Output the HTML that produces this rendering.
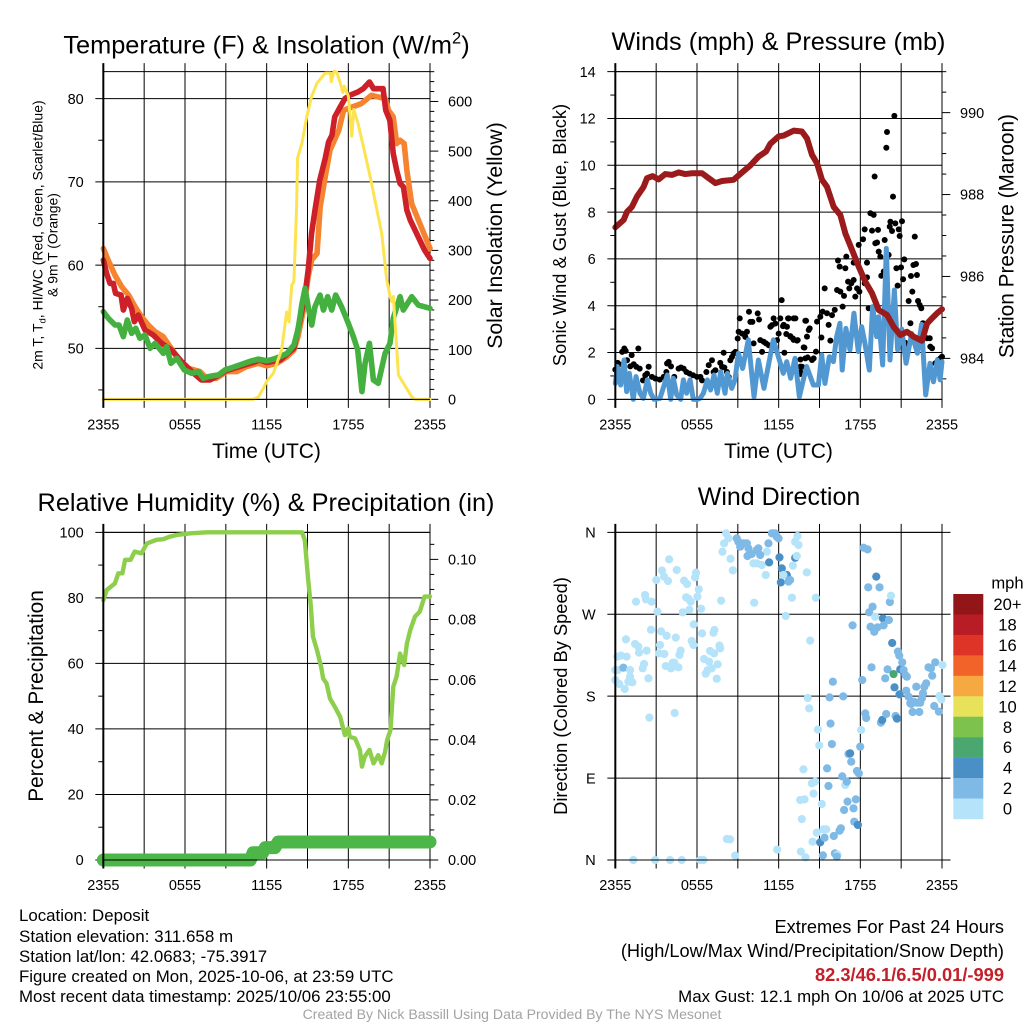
<!DOCTYPE html>
<html lang="en">
<head>
<meta charset="utf-8">
<title>Deposit Mesonet Station Meteogram</title>
<style>
html,body{margin:0;padding:0;background:#fff;}
svg{display:block;font-family:"Liberation Sans",sans-serif;}
text{fill:#000;}
</style>
</head>
<body>
<svg id="chart" xmlns="http://www.w3.org/2000/svg" width="1024" height="1024" viewBox="0 0 1024 1024">
  <rect x="0" y="0" width="1024" height="1024" fill="#fff"/>

  <g id="panel-temp"></g>
  <g id="panel-wind"></g>
  <g id="panel-rh"></g>
  <g id="panel-dir"></g>
  <g id="legend"></g>

  <text x="266.5" y="53.5" font-size="25.35" text-anchor="middle">Temperature (F) &amp; Insolation (W/m<tspan font-size="16.5" dy="-10">2</tspan><tspan dy="10">)</tspan></text>
  <text x="778.5" y="50" font-size="25.25" text-anchor="middle">Winds (mph) &amp; Pressure (mb)</text>
  <text x="266" y="511" font-size="25.3" text-anchor="middle">Relative Humidity (%) &amp; Precipitation (in)</text>
  <text x="779" y="505" font-size="25" text-anchor="middle">Wind Direction</text>

  <text x="266.5" y="458" font-size="21" text-anchor="middle">Time (UTC)</text>
  <text x="778.5" y="458" font-size="21" text-anchor="middle">Time (UTC)</text>

  <text transform="translate(42.5,235) rotate(-90)" font-size="14" text-anchor="middle">2m T, T<tspan font-size="9.5" dy="3">d</tspan><tspan dy="-3">, HI/WC (Red, Green, Scarlet/Blue)</tspan></text>
  <text transform="translate(57.5,245) rotate(-90)" font-size="13.9" text-anchor="middle">&amp; 9m T (Orange)</text>
  <text transform="translate(502,235.5) rotate(-90)" font-size="21.2" text-anchor="middle">Solar Insolation (Yellow)</text>
  <text transform="translate(566,235) rotate(-90)" font-size="18.3" text-anchor="middle">Sonic Wind &amp; Gust (Blue, Black)</text>
  <text transform="translate(1013.5,236) rotate(-90)" font-size="20.8" text-anchor="middle">Station Pressure (Maroon)</text>
  <text transform="translate(43,696) rotate(-90)" font-size="20.8" text-anchor="middle">Percent &amp; Precipitation</text>
  <text transform="translate(567,696) rotate(-90)" font-size="18.3" text-anchor="middle">Direction (Colored By Speed)</text>

  <text x="19" y="921" font-size="16.85">Location: Deposit</text>
  <text x="19" y="942" font-size="17">Station elevation: 311.658 m</text>
  <text x="19" y="962" font-size="16.85">Station lat/lon: 42.0683; -75.3917</text>
  <text x="19" y="982" font-size="16.85">Figure created on Mon, 2025-10-06, at 23:59 UTC</text>
  <text x="19" y="1002" font-size="16.85">Most recent data timestamp: 2025/10/06 23:55:00</text>

  <text x="1004" y="933" font-size="18.2" text-anchor="end">Extremes For Past 24 Hours</text>
  <text x="1004" y="957" font-size="18.2" text-anchor="end">(High/Low/Max Wind/Precipitation/Snow Depth)</text>
  <text x="1004" y="981" font-size="18.3" font-weight="bold" text-anchor="end" style="fill:#c4202a">82.3/46.1/6.5/0.01/-999</text>
  <text x="1004" y="1002" font-size="16.85" text-anchor="end">Max Gust: 12.1 mph On 10/06 at 2025 UTC</text>
  <text x="512" y="1019" font-size="14.1" text-anchor="middle" style="fill:#a3a3a3">Created By Nick Bassill Using Data Provided By The NYS Mesonet</text>
</svg>

<script>
// ---- shared time axis ----
const timeTickHours = [0, 3, 6, 9, 12, 15, 18, 21, 24];
const timeTickLabels = ["2355", "", "0555", "", "1155", "", "1755", "", "2355"];

// ---- temperature panel ----
const tempAxisTicks = [50, 60, 70, 80];
const tempAxisMinorTicks = [45, 55, 65, 75];
const solarAxisTicks = [0, 100, 200, 300, 400, 500, 600];
const solarAxisMinorTicks = [20,40,60,80,120,140,160,180,220,240,260,280,320,340,360,380,420,440,460,480,520,540,560,580,620,640,660];

const orangeHours = [0,.35,.85,1.35,1.85,2.33,2.8,3.3,3.8,4.4,4.9,5.6,6.25,7.1,7.6,8.3,9.05,9.8,10.5,11.4,12,12.75,13.5,14,14.3,14.7,15.05,15.3,15.7,15.93,16.3,16.65,17.3,17.65,18.95,19.7,20.7,20.95,21.3,21.55,21.8,22.1,22.3,22.65,23.25,24];
const orangeTemps = [62,60.6,58.8,57.4,56.4,55,53.8,52.8,52,51.4,50.2,48.6,47.6,47.2,46.4,46.4,47.2,47.2,47.8,48.2,47.9,48.2,49,49.8,51.4,54.6,58.6,60.6,61.4,67,70.6,73.8,76.2,78.6,79.4,80.4,80,78.6,77.8,74.6,75,74.6,71.4,67.4,65,62];

const redHours = [0,.24,.49,.73,.9,1.3,1.47,1.76,2.08,2.28,2.57,3.06,3.67,4.29,5,5.75,6.5,7.2,7.84,8.5,9,10,11,11.5,12,13,14,14.45,14.8,15.05,15.3,15.55,15.9,16.3,16.55,16.8,17,17.4,17.75,18.1,18.7,19.1,19.55,19.85,20.2,20.55,20.75,21.05,21.3,21.55,21.8,22.05,22.3,22.55,22.9,23.25,23.6,24];
const redTemps = [60.6,59,57.8,57.8,56.6,56.4,54.6,56,54.8,53.2,54,52.2,51.6,50.6,49.8,48.4,47.2,46.2,46.2,46.8,47.3,47.8,48.3,48.6,48.3,48.6,50,53.4,56.2,59.4,63.8,66.6,70.2,72.8,74.8,75.6,77.8,79,80,80.4,80.8,81.2,82,81.2,81.2,81.2,78.6,77.4,73.4,71.4,69.8,69.4,66.6,65.4,64.2,63,61.8,60.8];

const greenHours = [0,.37,.86,1.15,1.47,1.76,2.08,2.38,2.69,3.06,3.43,3.8,4.41,4.65,4.97,5.4,5.95,6.49,6.98,7.35,7.71,8.45,8.94,9.67,10.9,11.39,12,12.5,13,13.5,14,14.3,14.6,14.82,15.05,15.31,15.55,15.92,16.17,16.48,16.78,17.07,17.5,18,18.37,18.69,19,19.23,19.55,19.84,20.2,20.7,21.06,21.3,21.8,22.04,22.66,23.14,24];
const greenTemps = [54.4,53.6,52.8,52.8,51.4,53.4,51.8,52.4,51.2,51.6,50,50.6,49.4,50.2,48.2,48.8,47.4,47,47.2,46.4,46.6,46.8,47.4,47.8,48.5,48.7,48.5,48.7,49,49.4,50.4,52.2,55.4,57.2,55,52.8,55,56.4,54.6,56.2,54.6,56.4,55,53,51.4,49.8,44.8,48.2,50.6,46.2,45.8,49.4,50.6,53.6,56.2,54.6,56.2,55.2,54.8];

const solarHours = [0,11,11.4,11.75,12,12.5,13.1,13.47,13.64,13.84,14,14.2,14.27,14.6,14.95,15.3,15.7,16.3,16.7,16.75,16.95,17.15,17.4,17.6,17.7,18,18.25,18.4,18.7,19.1,19.6,20.2,20.45,20.82,21.07,21.19,21.31,21.68,22.66,22.9,24];
const solarWatts = [0,0,5,22,36,53,100,176,156,230,237,389,486,517,570,610,637,657,657,640,661,659,638,618,631,611,530,584,557,510,449,368,335,241,207,197,207,49,5,0,0];

// ---- winds panel ----
const windAxisTicks = [0, 2, 4, 6, 8, 10, 12, 14];
const windAxisMinorTicks = [1, 3, 5, 7, 9, 11, 13];
const pressureAxisTicks = [984, 986, 988, 990];
const pressureAxisMinorTicks = [983.5,984.5,985,985.5,986.5,987,987.5,988.5,989,989.5,990.5,991];

const sonicHours = [0,.15,.39,.64,.83,1.03,1.32,1.52,1.81,2.06,2.35,2.6,2.84,3.28,3.82,4.07,4.26,4.51,4.8,5,5.24,5.49,5.73,6.02,6.22,6.47,6.76,7,7.25,7.49,7.74,8.06,8.23,8.55,8.79,9.04,9.35,9.77,10.19,10.51,10.92,11.61,11.98,12.34,12.59,12.88,13.2,13.52,13.81,14.06,14.55,14.92,15.16,15.4,15.72,16.02,16.26,16.5,16.67,16.94,17.24,17.53,17.85,18.1,18.34,18.66,18.9,19.2,19.34,19.64,19.91,20.18,20.5,20.74,21.04,21.36,21.77,22.19,22.5,22.8,23.12,23.37,23.66,23.86,24];
const sonicSpeeds = [.68,1.4,.61,1.68,.33,1.11,0,.97,.26,.04,.83,.26,0,.04,1.04,0,.9,.19,0,.83,.26,.83,0,0,.04,.26,.83,.4,1.04,.26,1.18,.26,1.11,.47,.83,1.97,1.32,2.54,.11,1.68,.47,2.54,1.82,1.11,1.61,.9,1.75,.11,.83,1.4,.61,.61,1.9,.68,1.82,1.61,2.68,3.25,1.25,3.03,2.11,3.68,2.04,3.1,2.39,1.25,3.96,2.68,3.53,1.47,6.45,1.68,4.67,2.11,3,1.54,2.82,1.97,3.2,.19,1.54,.75,1.68,.83,1.61];

const gustHours = [0,.17,.29,.5,.66,.76,.86,1.2,1.1,1.35,1.69,1.54,1.79,2.03,2.2,2.45,2.33,2.69,2.94,3.26,3.55,3.75,3.92,4.09,3.8,4.33,4.65,4.82,5.02,5.22,5.46,5.71,6,6.25,6.37,6.69,6.86,7.1,7.22,7.35,7.71,7.84,8.01,8.2,8.33,8.45,8.57,8.69,8.82,7.96,8.99,9.14,9.06,9.31,9.55,9.67,9.82,9.92,10.07,10.16,10.46,10.56,10.65,10.9,11.07,11.27,10.78,11.39,11.51,11.63,11.76,12,11.88,12.12,12.22,12.32,12.42,12.56,12.74,12.86,13.05,13.23,13.4,13.6,13.6,13.72,13.89,14.01,14.21,14.13,13.6,13.6,13.96,13.96,14.08,14.28,14.45,13.84,13.1,12.69,12.37,12.61,12.86,13.1,13.35,14.57,14.74,14.82,15.06,15.14,15.38,15.23,15.55,15.67,15.8,15.92,16.12,16.29,16.36,16.48,16.53,16.7,16.8,16.9,16.97,17.1,17.19,17.34,17.51,17.63,17.76,17.93,17.88,17.51,18.2,18.32,18.49,18.49,18.32,18.74,18.86,18.98,19.1,19.23,19.3,19.35,19.47,18.61,19.05,19.54,19.72,19.79,19.91,19.96,20.08,20.16,20.21,20.33,20.4,20.5,20.57,20.65,20.74,20.89,20.82,20.99,21.06,21.14,21.23,21.55,21.68,21.72,21.82,21.9,22,22.09,22.16,22.24,22.36,22.48,22.6,22.9,23.1,23.14,23.27,23.51,23.71,23.88,24,23.63,21.3,21.43];
const gustSpeeds = [1.27,1.56,1.5,2.03,2.17,2.07,1.67,1.89,1.41,1.5,2.17,1.39,1.31,.81,1.03,1.39,1.1,.96,.89,.84,.96,1.17,1.6,1.41,1.53,.96,1.31,1.36,1.31,1.17,1.1,1.03,.96,.96,.81,1.17,1.46,1.67,1.17,1.24,1.56,1.39,1.36,1.17,.96,1.67,1.81,1.96,2.03,1.99,2.6,3.46,2.89,2.81,2.67,2.89,3.74,3.31,3.31,2.39,3.67,3.41,2.53,2.46,2.39,2.31,2.03,3.1,3.17,3.46,3.24,2.81,2.53,3.46,4.24,3.13,1.99,2.79,3.46,2.7,2.6,3.46,2.53,1.17,1.7,1.39,2.21,3.36,2.96,1.79,1.4,1.08,1.75,3.36,2.68,3.03,1.68,2.22,3.46,3.46,3.18,3.1,2.68,2.54,2.51,1.75,2.04,3.32,3.53,2.64,4.74,3.75,3.68,3.18,2.51,3.6,3.82,4.67,5.93,5.67,4.6,3.96,4.42,5.6,6.1,5.03,4.74,4.96,5.1,4.39,4.74,4.6,6.6,5.84,6.84,7.26,5.84,5.21,4.96,7.95,7.21,7.88,6.67,6.7,7.24,6.31,6.1,3.89,9.52,5.28,5.46,6.81,10.75,11.42,6.17,7.38,7.59,7.19,8.66,12.11,7.52,5.6,4.86,6.98,7.26,5.64,7.61,5.13,5.98,4.2,3.25,5.27,4.6,5.74,6.95,5.78,5.31,4.2,4.03,3.89,3.25,2.61,2.61,2.25,2.18,1.54,1.68,1.75,1.82,1.4,2.42,2.25];

const pressureHours = [0,.61,.86,1.22,1.59,2.08,2.33,2.74,3.18,3.67,4.16,4.65,5.14,5.63,6.37,6.86,7.35,7.84,8.69,9.31,9.92,10.53,11.07,11.39,12,12.37,13.1,13.71,14.08,14.45,14.82,15.18,15.55,16.04,16.53,16.9,17.39,17.88,18.37,18.86,19.35,19.96,20.45,20.94,21.43,21.92,22.53,22.9,23.27,23.63,24];
const pressureValues = [987.2,987.38,987.58,987.7,987.95,988.19,988.4,988.45,988.37,988.5,988.48,988.54,988.5,988.52,988.52,988.4,988.28,988.33,988.36,988.54,988.71,988.93,989.05,989.24,989.42,989.44,989.56,989.54,989.37,988.97,988.76,988.36,988.19,987.7,987.5,987.05,986.65,986.24,985.87,985.59,985.18,985.06,984.77,984.57,984.65,984.53,984.43,984.85,984.98,985.1,985.2];

// ---- humidity panel ----
const rhAxisTicks = [0, 20, 40, 60, 80, 100];
const rhAxisMinorTicks = [10, 30, 50, 70, 90];
const precipAxisTicks = [0, 0.02, 0.04, 0.06, 0.08, 0.10];
const precipTickLabels = ["0.00", "0.02", "0.04", "0.06", "0.08", "0.10"];
const precipAxisMinorTicks = [.005,.01,.015,.025,.03,.035,.045,.05,.055,.065,.07,.075,.085,.09,.095,.105];

const rhHours = [0,.25,.85,1.1,1.4,1.6,2,2.3,2.8,3.2,3.9,4.4,4.9,5.4,6.4,7.6,14.6,14.8,15.05,15.25,15.4,15.7,16,16.15,16.4,16.65,17,17.4,17.75,18,18.1,18.5,18.85,19,19.2,19.55,19.85,20.2,20.45,20.7,20.85,21.1,21.3,21.55,21.8,22.1,22.3,22.55,22.9,23.25,23.6,24];
const rhValues = [79.3,82.4,84.4,87.5,87.5,91.6,91.6,94.1,93.6,96.6,97.7,97.9,98.7,99.2,99.7,100,100,97.7,85.5,77.3,68.2,64,59,55.4,53.9,49.3,46.8,43.7,38.1,40.2,37.6,37.1,33.6,28.5,31.5,33.6,29.5,32,29.5,33,36.6,39.7,52.9,56,63,59.5,66,70.2,74.3,75.8,80.4,80.4];

const precipHours = [0,10.8,11,11.7,11.9,12.6,12.85,24];
const precipInches = [0,0,.0024,.0024,.0041,.0041,.006,.006];

// ---- wind direction panel ----
const dirTicks = [0, 90, 180, 270, 360];
const dirTickLabels = ["N", "E", "S", "W", "N"];

const dirHours = [0,0,.17,.15,.29,.42,.59,.69,.83,.78,.96,1.08,1.08,1.25,1.45,1.52,1.69,1.74,2.01,2.11,2.18,2.3,2.43,2.5,2.62,2.67,2.25,3.01,3.09,3.21,3.28,3.36,3.43,3.58,3.6,3.77,3.7,3.87,3.95,4.09,4.22,4.34,4.36,4.44,4.51,4.63,4.71,4.8,4.95,5.05,5.27,5.2,5.37,5.44,5.54,5.61,5.74,5.76,5.86,5.93,6.03,6.13,6.3,6.37,6.52,6.64,6.79,6.89,6.96,7.08,7.21,7.28,7.25,7.45,7.52,7.65,7.7,7.77,7.87,7.99,8.14,8.31,8.46,8.63,1.32,2.92,4.02,4.88,6.23,6.47,8.8,8.19,8.43,
10.15,10.39,10.76,11.05,11.13,10.2,8.92,9.04,9.17,9.41,9.66,9.78,9.71,10.02,10.39,10.51,10.64,11.25,11.3,11.5,11.62,11.74,11.86,11.99,12.06,12.16,12.23,12.6,12.72,12.84,12.35,12.52,12.97,13.04,13.21,13.33,13.21,13.38,13.46,14.07,14.73,14.31,14.14,14.24,14.88,14.98,13.82,14.44,14.68,14.56,13.58,13.9,15.17,13.7,14.8,15.29,15.49,14.49,13.63,13.97,11.89,15.05,15.37,15.25,15.56,15.66,15.74,15.91,15.98,15.81,16.05,16.13,16.32,16.27,16.47,16.57,16.67,16.74,16.81,16.89,17.01,17.06,17.13,17.25,17.33,17.43,17.5,17.55,17.67,17.75,17.82,17.89,17.99,18.06,18.14,18.24,18.36,18.43,18.53,18.58,18.65,18.75,18.82,18.9,19.02,19.09,19.17,19.26,19.41,19.51,19.61,19.66,19.71,19.83,19.9,20,20.1,20.17,20.25,20.34,20.44,20.51,20.59,20.69,20.76,20.86,20.93,20.88,21.08,21.18,21.3,21.37,21.42,21.54,21.67,21.74,21.84,21.94,22.11,22.16,22.33,22.4,22.52,22.6,22.7,22.84,23.01,23.19,23.28,23.43,23.5,23.77,23.82,23.95,24.04];
const dirDegrees = [197.7,208.7,208.7,223.4,193.4,224.5,211.3,187.9,223.4,242.4,195.9,208.7,201.4,195.2,237.3,283.8,234.4,227.8,210.6,215.3,291.1,230,199.6,156.4,253,283.8,286.4,307.6,272.8,227,236.2,251.2,317.9,311.3,226.3,246.4,213.1,306.5,330.3,210.6,216.8,216.8,161.5,244.3,318.6,211.7,225.2,230,272.1,306.9,303.2,288.6,287.1,275,283.8,240.6,236.2,258.9,310.5,315.7,289.3,297.4,276.1,249,220.8,204.7,208.7,217.9,229.6,210.6,249.7,252.7,227,199.2,215,235.5,232.5,284.9,338.7,347.9,358.9,353.4,331,318.2,0,0,0,0,0,0,4.8,23.1,22.7,
325.9,325.9,324.1,313.1,338.7,282.7,353.4,349.7,344.2,347.9,347.9,342.4,334,336.2,340.6,342.4,335.1,347.9,327,358.9,358.9,358.9,355.2,353.4,332.5,305,320.4,313.1,305.8,307.6,313.1,268.1,288.2,323.4,332.1,334,349.7,355.9,346.1,316,288.2,241,178,166.6,143.2,126,99.6,84.2,86.1,72.9,65.9,66.6,61.5,45,30,33.7,33.7,20.1,9.2,2.9,11.4,19.4,24.5,5.1,100.7,81.3,178.7,127.4,195.9,149.8,26.4,7.3,5.9,3.7,32.2,34.8,91.9,179.8,54.9,82.4,86.1,64.1,116.5,117.2,108,257.8,56.8,42.1,66.6,97.8,38.5,95.2,124.5,142.8,197.7,343.1,161.1,156,341.3,299.6,272.1,256.3,211.7,278.3,250.8,267.3,311.3,255.6,299.6,150.9,153.8,265.5,257.8,199.6,160.4,209.5,263.7,283.4,290.4,238.4,204.3,189.7,158.2,155.3,228.9,224.5,209.5,182,217.2,208.7,203.2,186,201.4,179.4,172.1,171.4,162.6,173.9,190.4,172.8,162.6,172.8,177.6,183.1,190.4,194.1,211.7,210.6,202.5,169.2,217.2,163,180.2,176.5,214.2];
const dirSpeeds = [.8,.8,.8,.8,.8,.8,2,.8,.8,.8,.8,.8,.8,.8,.8,.8,.8,.8,.8,.8,.8,.8,.8,.8,.8,.8,.8,.8,.8,.8,.8,.8,.8,.8,.8,.8,.8,.8,.8,.8,.8,.8,.8,.8,.8,.8,.8,.8,.8,.8,.8,.8,.8,.8,.8,.8,.8,.8,.8,.8,.8,.8,.8,.8,.8,.8,.8,.8,.8,.8,.8,.8,.8,.8,.8,.8,.8,.8,.8,.8,.8,.8,.8,.8,.8,.8,.8,.8,.8,.8,.8,.8,.8,
.8,.8,.8,.8,.8,.8,2,2,2,2,2,2,2,2,2,2,2,2,4,2,2,2,2,2,4,4,4,4,2,2,.8,.8,.8,.8,4,.8,.8,.8,.8,.8,.8,.8,.8,.8,.8,.8,.8,.8,.8,.8,.8,.8,.8,.8,.8,.8,.8,.8,.8,.8,.8,4,2,2,2,2,2,2,2,2,2,2,.8,2,2,2,2,2,2,.8,2,2,2,4,2,2,2,2,2,2,4,2,2,.8,2,2,2,2,2,2,2,2,2,2,2,.8,4,2,2,2,4,4,2,2,2,2,2,2,.8,4,6,4,2,4,2,2,4,4,2,2,2,2,2,2,2,2,2,2,2,2,2,2,2,2,2,2,2,2,2,2,2,2,.8,.8,.8,.8,2,.8,.8,.8,.8,.8,.8];

// ---- legend ----
const legendLabels = ["20+", "18", "16", "14", "12", "10", "8", "6", "4", "2", "0"];
const legendColors = ["#921518", "#b81c24", "#de3327", "#f2632a", "#f7a941", "#e8e15a", "#7cc24c", "#4ba770", "#4a90c6", "#7fb9e6", "#b5e3fa"];
const speedBinColors = ["#b5e3fa", "#7fb9e6", "#4a90c6", "#4ba770", "#7cc24c", "#e8e15a", "#f7a941", "#f2632a", "#de3327", "#b81c24", "#921518"];

const NS = "http://www.w3.org/2000/svg";

function make(tag, attrs, parent) {
  const node = document.createElementNS(NS, tag);
  for (const key in attrs) node.setAttribute(key, attrs[key]);
  parent.appendChild(node);
  return node;
}

function linear(d0, d1, r0, r1) {
  return function (v) { return r0 + (v - d0) / (d1 - d0) * (r1 - r0); };
}

function pathFrom(hours, values, xf, yf) {
  return hours.map(function (h, i) {
    return (i ? "L" : "M") + xf(h).toFixed(2) + " " + yf(values[i]).toFixed(2);
  }).join("");
}

function hLine(parent, x1, x2, y, width, name) {
  const ln = make("line", { x1: x1, x2: x2, y1: y, y2: y, stroke: "#000", "stroke-width": width }, parent);
  
  
  return ln;
}

function vLine(parent, x, y1, y2, width, name) {
  const ln = make("line", { x1: x, x2: x, y1: y1, y2: y2, stroke: "#000", "stroke-width": width }, parent);
  
  
  return ln;
}

function label(parent, x, y, str, anchor, name) {
  const t = make("text", { x: x, y: y, "font-size": 14.5, "text-anchor": anchor }, parent);
  t.textContent = str;
  
  
  return t;
}

function series(parent, hours, values, xf, yf, color, width, name) {
  const p = make("path", {
    d: pathFrom(hours, values, xf, yf), fill: "none", stroke: color,
    "stroke-width": width, "stroke-linejoin": "round", "stroke-linecap": "round"
  }, parent);
  
  
  return p;
}

function frame(g, o) {
  const L = o.left, R = o.left + o.width, T = o.top, B = o.bottom;
  const xf = linear(0, 24, L, R);
  const gridGroup = make("g", {}, g);
  
  

  timeTickHours.forEach(function (h, i) {
    if (h !== 0) vLine(gridGroup, xf(h), T - 8.5, B + 8.5, 1, "time-gridline");
    if (timeTickLabels[i]) label(gridGroup, xf(h), B + 30, timeTickLabels[i], "middle", "time-tick-label");
  });
  hLine(gridGroup, L - 1, R, T, 1, "top-border");

  o.leftTicks.forEach(function (v, i) {
    const y = o.yLeft(v);
    hLine(gridGroup, L - 8, R + (o.rightExtend || 0), y, 1, "left-gridline");
    label(gridGroup, L - 19.6, y + 5.2, o.leftLabels ? o.leftLabels[i] : String(v), "end", "left-tick-label");
  });
  (o.leftMinor || []).forEach(function (v) {
    hLine(gridGroup, L - 5, L, o.yLeft(v), 1, "left-minor-tick");
  });
  (o.rightTicks || []).forEach(function (v, i) {
    const y = o.yRight(v);
    hLine(gridGroup, R, R + 8.3, y, 1, "right-tick");
    label(gridGroup, R + 18, y + 5.2, o.rightLabels ? o.rightLabels[i] : String(v), "start", "right-tick-label");
  });
  (o.rightMinor || []).forEach(function (v) {
    hLine(gridGroup, R, R + 4.3, o.yRight(v), 1, "right-minor-tick");
  });
  return xf;
}

function spines(g, o) {
  const L = o.left, R = o.left + o.width;
  vLine(g, L, o.top - 8.5, o.bottom + 8.5, 2, "left-axis-line");
  hLine(g, L - 1, R, o.bottom, 1, "bottom-axis-line");
}

const LEFT_A = 103.33, LEFT_B = 615.33, W = 326.67;
const TOP_1 = 71.67, BOT_1 = 399.33, TOP_2 = 532.33, BOT_2 = 860;

// Temperature & insolation
const panelTemp = document.getElementById("panel-temp");
const yTemp = linear(43.87, 83.24, BOT_1, TOP_1);
const ySolar = linear(0, 660, BOT_1, TOP_1);
const tempOpts = {
  left: LEFT_A, width: W, top: TOP_1, bottom: BOT_1,
  yLeft: yTemp, yRight: ySolar,
  leftTicks: tempAxisTicks, leftMinor: tempAxisMinorTicks,
  rightTicks: solarAxisTicks, rightMinor: solarAxisMinorTicks
};
const xTemp = frame(panelTemp, tempOpts);
hLine(panelTemp, LEFT_A - 1, LEFT_A + W, BOT_1, 1, "bottom-border");
series(panelTemp, orangeHours, orangeTemps, xTemp, yTemp, "#f6832f", 5.6, "temperature-9m-line");
series(panelTemp, redHours, redTemps, xTemp, yTemp, "#cd2028", 5.6, "temperature-2m-line");
series(panelTemp, greenHours, greenTemps, xTemp, yTemp, "#44b03f", 5.6, "dewpoint-line");
series(panelTemp, solarHours, solarWatts, xTemp, ySolar, "#fde350", 3, "solar-insolation-line");
spines(panelTemp, tempOpts);

// Winds & pressure
const panelWind = document.getElementById("panel-wind");
const yWind = linear(0, 14, BOT_1, TOP_1);
const yPressure = linear(983, 991, BOT_1, TOP_1);
const windOpts = {
  left: LEFT_B, width: W, top: TOP_1, bottom: BOT_1,
  yLeft: yWind, yRight: yPressure,
  leftTicks: windAxisTicks, leftMinor: windAxisMinorTicks,
  rightTicks: pressureAxisTicks, rightMinor: pressureAxisMinorTicks
};
const xWind = frame(panelWind, windOpts);
gustHours.forEach(function (h, i) {
  const c = make("circle", { cx: xWind(h), cy: yWind(gustSpeeds[i]), r: 3, fill: "#000" }, panelWind);
  
  
});
series(panelWind, sonicHours, sonicSpeeds, xWind, yWind, "#5198d2", 5, "sonic-wind-line");
series(panelWind, pressureHours, pressureValues, xWind, yPressure, "#9b1a1c", 6, "station-pressure-line");
spines(panelWind, windOpts);

// Humidity & precipitation
const panelRh = document.getElementById("panel-rh");
const yRh = linear(0, 100, BOT_2, TOP_2);
const yPrecip = linear(0, 0.109, BOT_2, TOP_2);
const rhOpts = {
  left: LEFT_A, width: W, top: TOP_2, bottom: BOT_2,
  yLeft: yRh, yRight: yPrecip,
  leftTicks: rhAxisTicks, leftMinor: rhAxisMinorTicks,
  rightTicks: precipAxisTicks, rightLabels: precipTickLabels, rightMinor: precipAxisMinorTicks
};
const xRh = frame(panelRh, rhOpts);
series(panelRh, precipHours, precipInches, xRh, yPrecip, "#4cb648", 13, "precipitation-line");
series(panelRh, rhHours, rhValues, xRh, yRh, "#8dcf4c", 4.4, "relative-humidity-line");
spines(panelRh, rhOpts);

// Wind direction
const panelDir = document.getElementById("panel-dir");
const yDir = linear(0, 360, BOT_2, TOP_2);
const dirOpts = {
  left: LEFT_B, width: W, top: TOP_2, bottom: BOT_2,
  yLeft: yDir, leftTicks: dirTicks, leftLabels: dirTickLabels,
  rightExtend: 8.5
};
const xDir = frame(panelDir, dirOpts);
dirHours.forEach(function (h, i) {
  const bin = Math.min(speedBinColors.length - 1, Math.round(dirSpeeds[i] / 2));
  const c = make("circle", { cx: xDir(h), cy: yDir(dirDegrees[i]), r: 4.1, fill: speedBinColors[bin] }, panelDir);
  
  
});
spines(panelDir, dirOpts);

// Legend
const legend = document.getElementById("legend");
const legendTitle = label(legend, 1007.5, 588.5, "mph", "middle", "legend-title");
legendTitle.setAttribute("font-size", "16.6");
legendLabels.forEach(function (txt, i) {
  const boxH = 225 / legendLabels.length;
  const r = make("rect", { x: 953.3, y: 594 + i * boxH, width: 30, height: boxH + 0.2, fill: legendColors[i] }, legend);
  
  
  const lab = label(legend, 1007.5, 594 + i * boxH + boxH / 2 + 5.8, txt, "middle", "legend-label");
  lab.setAttribute("font-size", "16.6");
});
</script>
</body>
</html>
